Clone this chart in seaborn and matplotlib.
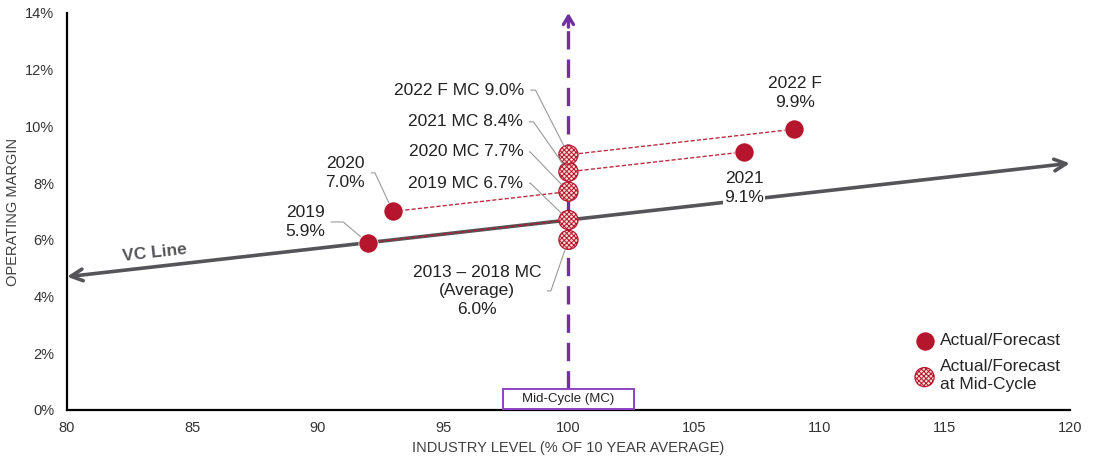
import numpy as np
import pandas as pd
import matplotlib.pyplot as plt
from matplotlib.patches import Rectangle
import seaborn as sns

sns.set_theme(style="white")
plt.rcParams['font.family'] = ['Liberation Sans', 'DejaVu Sans']
plt.rcParams['hatch.color'] = '#c0283c'
plt.rcParams['hatch.linewidth'] = 0.7

# data
actual_labels = ["2019", "2020", "2021", "2022 F"]
actual_x = [92, 93, 107, 109]
actual_y = [5.9, 7.0, 9.1, 9.9]

mc_labels = ["2013 – 2018 MC\n(Average)\n6.0%", "2019 MC 6.7%", "2020 MC 7.7%",
             "2021 MC 8.4%", "2022 F MC 9.0%"]
mc_x = [100, 100, 100, 100, 100]
mc_y = [6.0, 6.7, 7.7, 8.4, 9.0]

vc_x = [80, 120]
vc_y = [4.7, 8.7]

RED = '#b5162e'
PURPLE = '#7030a0'
GRAY = '#555559'

df_act = pd.DataFrame({"x": actual_x, "y": actual_y, "kind": "Actual/Forecast"})
df_mc = pd.DataFrame({"x": mc_x, "y": mc_y, "kind": "Actual/Forecast\nat Mid-Cycle"})

fig, ax = plt.subplots(figsize=(10.94, 4.63), dpi=100)
fig.subplots_adjust(left=0.0612, right=0.978, bottom=0.1145, top=0.972)

# VC line
ax.annotate("", xy=(vc_x[1], vc_y[1]), xytext=(vc_x[0], vc_y[0]),
            arrowprops=dict(arrowstyle="<->,head_width=0.35,head_length=0.7",
                            color=GRAY, lw=2.6, shrinkA=0, shrinkB=0), zorder=3)
ax.text(83.5, 5.55, "VC Line", fontsize=12.5, fontweight="bold", color=GRAY,
        rotation=6.4, ha="center", va="center", rotation_mode="anchor")

# dashed red connectors actual -> mid-cycle
for i in range(len(actual_x)):
    ax.plot([actual_x[i], mc_x[i + 1]], [actual_y[i], mc_y[i + 1]],
            color=RED, lw=1.0, ls=(0, (3, 1.5)), zorder=4, alpha=0.9)

# mid-cycle vertical dashed arrow
ax.plot([100, 100], [0.75, 13.75], color=PURPLE, lw=2.4, dashes=(5.5, 3), zorder=1)
ax.annotate("", xy=(100, 14.0), xytext=(100, 13.5),
            arrowprops=dict(arrowstyle="->,head_width=0.3,head_length=0.5",
                            color=PURPLE, lw=2.4, shrinkA=0, shrinkB=0),
            annotation_clip=False, zorder=1)
ax.add_patch(Rectangle((97.4, 0.03), 5.2, 0.72, facecolor="white",
                       edgecolor="#8e44c0", lw=1.4, zorder=4, clip_on=False))
ax.text(100, 0.38, "Mid-Cycle (MC)", fontsize=9.5, ha="center", va="center",
        color="#222222", zorder=5)

# points
sns.scatterplot(data=df_act, x="x", y="y", ax=ax, s=190, color=RED,
                edgecolor="white", linewidth=0.5, zorder=6, legend=False)
sns.scatterplot(data=df_mc, x="x", y="y", ax=ax, s=190, facecolor="#f7ddd4",
                edgecolor=RED, linewidth=0.9, hatch="xxxxxxx", zorder=6, legend=False)

# annotations with leader lines
lead = dict(arrowstyle="-", color="#9a9a9a", lw=0.8, shrinkB=7, relpos=(1, 0.5))
mc_text_pos = [(96.35, 4.2, 251), (98.2, 8.0, 136), (98.2, 9.1, 134),
               (98.2, 10.16, 125), (98.25, 11.28, 117)]
for i, (tx, ty, ang) in enumerate(mc_text_pos):
    ha = "center" if i == 0 else "right"
    ax.annotate(mc_labels[i], xy=(mc_x[i], mc_y[i]), xytext=(tx, ty),
                ha=ha, va="center", fontsize=12.5, color="#222222",
                multialignment="center", linespacing=1.3,
                arrowprops=dict(lead, connectionstyle=f"angle,angleA=0,angleB={ang},rad=0"),
                zorder=7)

act_text_pos = [(89.5, 6.63, 140), (91.1, 8.36, 115)]
for i, (tx, ty, ang) in enumerate(act_text_pos):
    ax.annotate(f"{actual_labels[i]}\n{actual_y[i]:.1f}%", xy=(actual_x[i], actual_y[i]),
                xytext=(tx, ty), ha="center", va="center", fontsize=12.5,
                color="#222222", linespacing=1.3,
                arrowprops=dict(lead, connectionstyle=f"angle,angleA=0,angleB={ang},rad=0"),
                zorder=7)

ax.text(107.0, 7.83, f"{actual_labels[2]}\n{actual_y[2]:.1f}%", ha="center", va="center",
        fontsize=12.5, color="#222222", linespacing=1.3, zorder=7,
        bbox=dict(facecolor="white", edgecolor="none", pad=1))
ax.text(109.05, 11.18, f"{actual_labels[3]}\n{actual_y[3]:.1f}%", ha="center", va="center",
        fontsize=12.5, color="#222222", linespacing=1.3, zorder=7)

# axes styling
ax.set_xlim(80, 120)
ax.set_ylim(0, 14)
ax.set_xticks(range(80, 121, 5))
ax.set_yticks(range(0, 15, 2))
ax.set_yticklabels([f"{v}%" for v in range(0, 15, 2)])
ax.tick_params(axis="both", length=0, labelsize=10.5, labelcolor="#333333")
ax.tick_params(axis="y", pad=9)
ax.tick_params(axis="x", pad=8)
sns.despine(ax=ax)
for sp in ["left", "bottom"]:
    ax.spines[sp].set_color("black")
    ax.spines[sp].set_linewidth(1.6)
ax.set_xlabel("INDUSTRY LEVEL (% OF 10 YEAR AVERAGE)", fontsize=10.5, color="#404040", labelpad=4)
ax.set_ylabel("OPERATING MARGIN", fontsize=10.5, color="#404040", labelpad=4)

# legend
handles = [ax.collections[0], ax.collections[1]]
leg = ax.legend(handles, ["Actual/Forecast", "Actual/Forecast\nat Mid-Cycle"],
                loc="upper left", bbox_to_anchor=(0.836, 0.215), frameon=False,
                fontsize=12.5, handletextpad=0.3, labelspacing=0.6, borderpad=0,
                handlelength=1.2, markerscale=1.0)
for t in leg.get_texts():
    t.set_linespacing(1.3)

plt.savefig("out.png", dpi=100)
